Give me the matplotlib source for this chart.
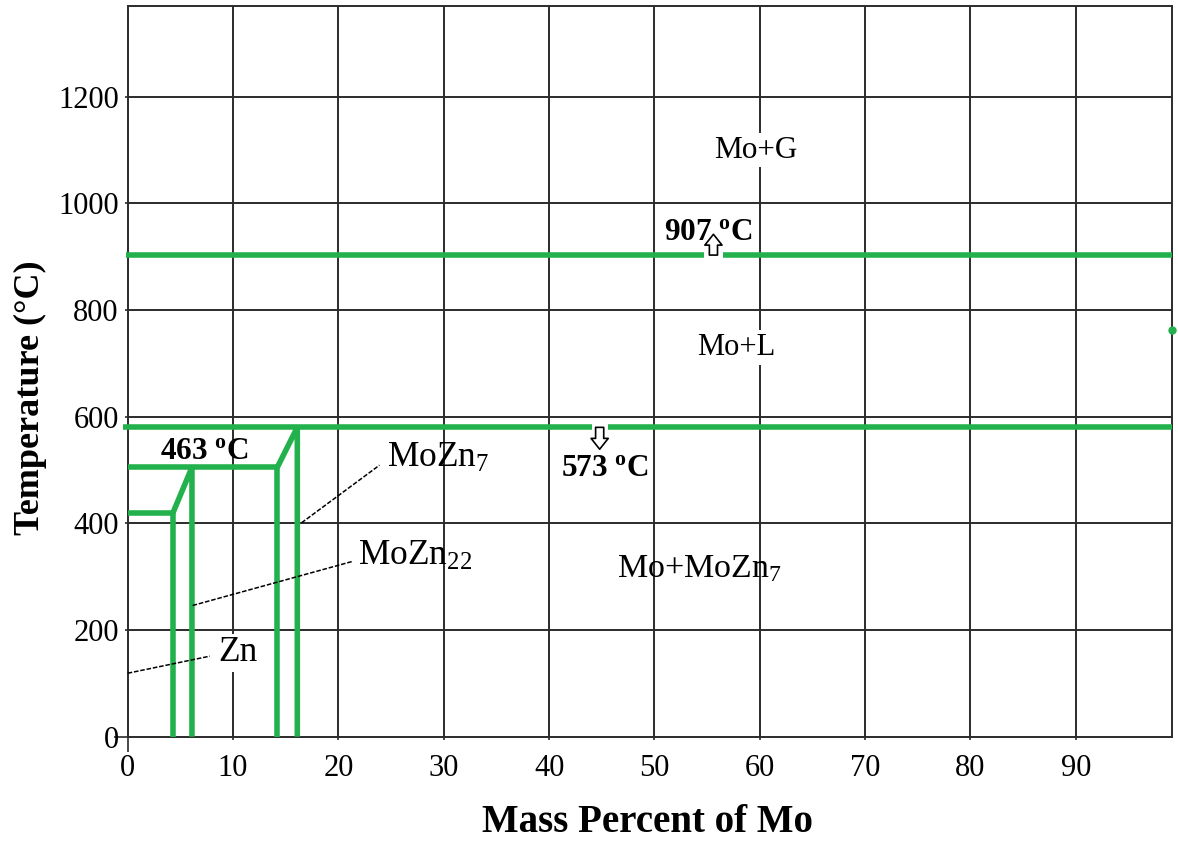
import numpy as np
import matplotlib
matplotlib.use("Agg")
import matplotlib.pyplot as plt

# ============== DATA ==============
# compositions (mass % Mo) of the vertical phase boundaries
comp_zn_side = 4.3      # Zn-side eutectic / liquidus corner
comp_mozn22 = 6.1       # MoZn22
comp_mozn22_r = 14.2    # MoZn22 right boundary
comp_mozn7 = 16.1       # MoZn7

# invariant temperatures as drawn (deg C)
T_zn = 420
T_463 = 505
T_573 = 580
T_907 = 903

x_max = 99.1
y_max = 1370

x_ticks = [0, 10, 20, 30, 40, 50, 60, 70, 80, 90]
y_ticks = [0, 200, 400, 600, 800, 1000, 1200]

# gaps in the isotherms where the arrows sit
gap_907 = (54.7, 56.5)
gap_573 = (44.1, 45.6)
arrow_907_x, arrow_907_to = 55.6, 942
arrow_573_x, arrow_573_to = 44.8, 539

# region labels: (text, x, y, size)
region_labels = [
    ("Mo+G", 59.6, 1100, 22.5),
    ("Mo+L", 57.8, 730, 22),
    (r"Mo+MoZn$_{7}$", 54.3, 314, 24.5),
]
# labelled phases: (text, x, y, leader start, leader end)
phase_labels = [
    (r"MoZn$_{7}$", 24.6, 522, (16.5, 401), (23.9, 509)),
    (r"MoZn$_{22}$", 21.9, 338, (6.16, 246), (21.4, 329)),
    ("Zn", 8.6, 157, (0.0, 119), (7.8, 151)),
]
# isotherm labels: (text, x, y)
temp_labels = [
    (r"463 $^{\mathbf{o}}$C", 3.1, 534),
    (r"573 $^{\mathbf{o}}$C", 41.1, 502),
    (r"907 $^{\mathbf{o}}$C", 50.9, 946),
]
# =========================================================

GREEN = "#22b14c"
GRID = "#2b2b2b"

plt.rcParams["font.family"] = ["Liberation Serif", "DejaVu Serif"]
plt.rcParams["mathtext.fontset"] = "custom"
plt.rcParams["mathtext.rm"] = "Liberation Serif"
plt.rcParams["mathtext.it"] = "Liberation Serif:italic"
plt.rcParams["mathtext.bf"] = "Liberation Serif:bold"

fig = plt.figure(figsize=(11.78, 8.43), dpi=100)
ax = fig.add_axes([127.7 / 1178, 1 - 736.7 / 843, (1171.7 - 127.7) / 1178, (736.7 - 6) / 843])
ax.set_xlim(0, x_max)
ax.set_ylim(0, y_max)

# grid
for xv in x_ticks[1:]:
    ax.axvline(xv, color=GRID, lw=1.4, zorder=1)
for yv in y_ticks[1:]:
    ax.axhline(yv, color=GRID, lw=1.4, zorder=1)
for sp in ax.spines.values():
    sp.set_color(GRID)
    sp.set_linewidth(1.4)

lw_g = 4.0
kw = dict(color=GREEN, lw=lw_g, solid_capstyle="butt", solid_joinstyle="bevel", zorder=3)

# Zn side
ax.plot([0, comp_zn_side, comp_zn_side], [T_zn, T_zn, 0], **kw)
ax.plot([comp_zn_side, comp_mozn22, comp_mozn22], [T_zn, T_463, 0], **kw)
# MoZn22
ax.plot([0, comp_mozn22_r, comp_mozn22_r], [T_463, T_463, 0], **kw)
ax.plot([comp_mozn22_r, comp_mozn7, comp_mozn7], [T_463, T_573, 0], **kw)
# 573 isotherm
ax.plot([-0.4, gap_573[0]], [T_573, T_573], clip_on=False, **kw)
ax.plot([gap_573[1], x_max], [T_573, T_573], **kw)
# 907 isotherm
ax.plot([-0.2, gap_907[0]], [T_907, T_907], clip_on=False, **kw)
ax.plot([gap_907[1], x_max], [T_907, T_907], **kw)
# small stray mark at the right edge
ax.plot([x_max], [762], "o", color=GREEN, ms=5, clip_on=False, zorder=3)

# hollow arrows
akw = dict(arrowstyle="simple,head_width=0.95,head_length=0.6,tail_width=0.45",
           fc="white", ec="black", lw=1.2, shrinkA=0, shrinkB=0, mutation_scale=13)
ax.annotate("", xy=(arrow_907_x, arrow_907_to), xytext=(arrow_907_x, T_907),
            arrowprops=akw, zorder=4)
ax.annotate("", xy=(arrow_573_x, arrow_573_to), xytext=(arrow_573_x, T_573),
            arrowprops=akw, zorder=4)

# labels
for txt, x, y, size in region_labels:
    bb = None if "MoZn" in txt else dict(fc="white", ec="none", pad=2)
    ax.text(x, y, txt, fontsize=size, ha="center", va="center", bbox=bb, zorder=5)

for txt, x, y, p0, p1 in phase_labels:
    bb = dict(fc="white", ec="none", pad=2) if txt == "Zn" else None
    ax.text(x, y, txt, fontsize=25.5, ha="left", va="center", bbox=bb, zorder=5)
    ax.plot([p0[0], p1[0]], [p0[1], p1[1]], color="black", lw=1.1,
            ls=(0, (3, 1.2)), zorder=4, clip_on=False)

for txt, x, y in temp_labels:
    ax.text(x, y, txt, fontsize=22.5, fontweight="bold", ha="left", va="center", zorder=5)

# ticks
ax.set_xticks(x_ticks)
ax.set_yticks(y_ticks)
ax.tick_params(axis="both", labelsize=22, length=2.5, width=1.2, color=GRID, pad=4)
ax.tick_params(axis="x", pad=10)
ax.yaxis.get_major_ticks()[0].tick1line.set_markersize(10)
ax.xaxis.get_major_ticks()[0].tick1line.set_markersize(11)

fig.text(647 / 1178, 1 - 822 / 843, "Mass Percent of Mo", fontsize=28,
         fontweight="bold", ha="center", va="center")
fig.text(30 / 1178, 1 - 398 / 843, "Temperature (°C)", fontsize=26,
         fontweight="bold", ha="center", va="center", rotation=90)

fig.savefig("out.png", dpi=100)
